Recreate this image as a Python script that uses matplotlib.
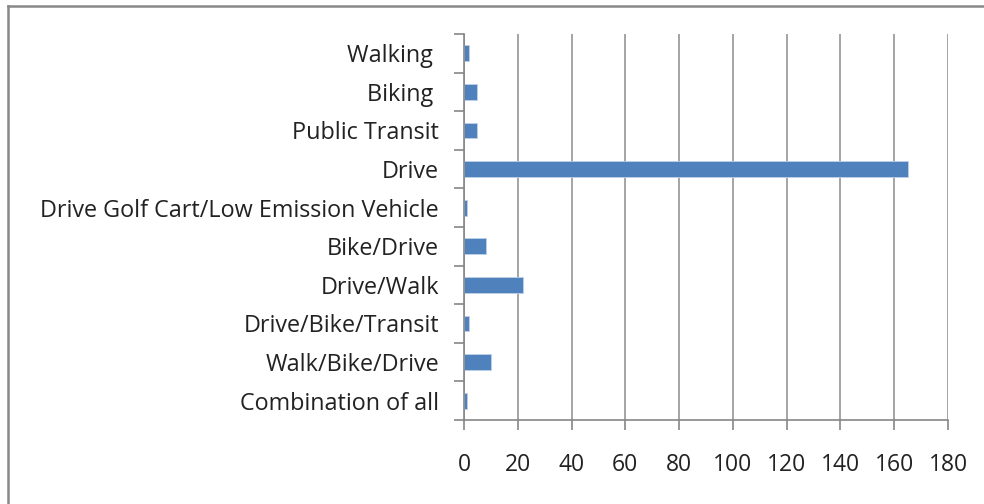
import matplotlib
matplotlib.use("Agg")
import matplotlib.pyplot as plt
from matplotlib.lines import Line2D
import numpy as np

categories = ["Walking ", "Biking ", "Public Transit", "Drive",
              "Drive Golf Cart/Low Emission Vehicle", "Bike/Drive",
              "Drive/Walk", "Drive/Bike/Transit", "Walk/Bike/Drive",
              "Combination of all"]
values = [2, 5, 5, 165, 1, 8, 22, 2, 10, 1]
xticks = [0, 20, 40, 60, 80, 100, 120, 140, 160, 180]

plt.rcParams['font.family'] = ['Open Sans', 'DejaVu Sans']

fig = plt.figure(figsize=(9.84, 5.04), dpi=100)
ax = fig.add_axes([464/984, 1-420/504, (948-464)/984, (420-34)/504])

n = len(categories)
y = np.arange(n)
ax.barh(y, values, height=0.41, color="#4F81BD", edgecolor="#BDD0E9", linewidth=0.6, zorder=3)
ax.set_ylim(n - 0.5, -0.5)
ax.set_xlim(0, 180)
ax.set_xticks(xticks)
ax.set_xticklabels([str(t) for t in xticks], fontsize=16.5, color="#222222")
ax.set_yticks(y)
ax.set_yticklabels(categories, fontsize=16.8, color="#222222")
ax.set_yticks(np.arange(n + 1) - 0.5, minor=True)
ax.tick_params(axis='y', which='major', length=0, pad=18)
ax.tick_params(axis='y', which='minor', length=7, width=1.2, color="#868686", direction='out')
ax.tick_params(axis='x', which='major', length=7, width=1.2, color="#868686", pad=17)
ax.grid(axis='x', color="#8C8C8C", linewidth=1.1, zorder=0)
for s in ['top', 'right']:
    ax.spines[s].set_visible(False)
for s in ['left', 'bottom']:
    ax.spines[s].set_color("#868686")
    ax.spines[s].set_linewidth(1.2)
    ax.spines[s].set_zorder(4)

# figure border (left and top)
fig.add_artist(Line2D([8/984, 8/984], [0, 1-6/504], transform=fig.transFigure, color="#888888", linewidth=1.8))
fig.add_artist(Line2D([8/984, 1], [1-6/504, 1-6/504], transform=fig.transFigure, color="#888888", linewidth=1.8))

fig.savefig("out.png", dpi=100)
